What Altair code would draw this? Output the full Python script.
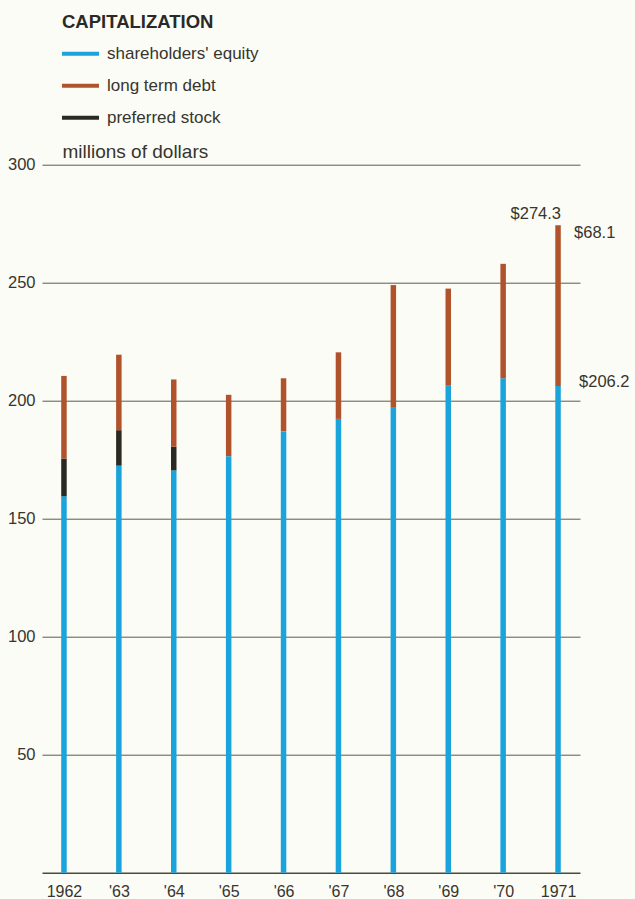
import altair as alt
import pandas as pd

years = ["1962", "'63", "'64", "'65", "'66", "'67", "'68", "'69", "'70", "1971"]
equity = [159.5, 172.5, 170.5, 176.5, 187.0, 192.3, 197.0, 206.5, 209.5, 206.2]
preferred = [16.0, 15.0, 10.0, 0.0, 0.0, 0.0, 0.0, 0.0, 0.0, 0.0]
debt = [35.0, 32.0, 28.5, 26.0, 22.5, 28.2, 52.0, 41.0, 48.5, 68.1]
series = ["shareholders' equity", "long term debt", "preferred stock"]
colors = ["#1ba3dc", "#b0532c", "#2b2a22"]
y_ticks = [50, 100, 150, 200, 250, 300]

stack_pos = {"shareholders' equity": 0, "preferred stock": 1, "long term debt": 2}
rows = []
for i, yr in enumerate(years):
    for s, vals in ((series[0], equity), (series[2], preferred), (series[1], debt)):
        rows.append({"year": yr, "series": s, "value": vals[i], "order": stack_pos[s]})
df = pd.DataFrame(rows)

last = years[-1]
total_last = round(equity[-1] + preferred[-1] + debt[-1], 1)

FONT = "Liberation Sans"
TXT = "#36352e"

xenc = alt.X(
    "year:N", sort=years,
    scale=alt.Scale(type="point", padding=0.4),
    axis=alt.Axis(title=None, labelAngle=0, labelFontSize=16, labelPadding=11,
                  ticks=False, domainColor="#4a4a3e", domainWidth=1.5,
                  labelColor=TXT, labelFont=FONT, grid=False),
)
yscale = alt.Scale(domain=[0, 300], nice=False)

bars = alt.Chart(df).mark_bar(size=5.5).encode(
    x=xenc,
    y=alt.Y("value:Q", stack="zero", scale=yscale,
            axis=alt.Axis(values=y_ticks, title="millions of dollars", titleAngle=0,
                          titleAlign="left", titleBaseline="alphabetic", titleX=20,
                          titleY=-7.7, titleFontSize=19, titleFontWeight="normal",
                          titleColor=TXT, titleFont=FONT, labelFont=FONT,
                          labelFontSize=16.5, labelColor=TXT, labelPadding=7,
                          ticks=False, domain=False, grid=True, gridColor="#5c5b48",
                          gridWidth=1)),
    color=alt.Color("series:N", scale=alt.Scale(domain=series, range=colors),
                    legend=alt.Legend(orient="none", legendX=20, legendY=-152,
                                      title="CAPITALIZATION", titleFontSize=18.5,
                                      titleFont=FONT, titleFontWeight="bold",
                                      titleColor="#2a2a25", titlePadding=13,
                                      labelFontSize=17, labelFont=FONT,
                                      labelColor=TXT, symbolType="M-2,-0.22H2V0.22H-2Z",
                                      symbolSize=342, symbolStrokeWidth=0,
                                      symbolOpacity=1, rowPadding=14, padding=0,
                                      symbolOffset=9, labelOffset=17)),
    order=alt.Order("order:Q"),
)

ann_total = alt.Chart(pd.DataFrame({"year": [last], "value": [total_last],
                                    "label": [f"${total_last:.1f}"]})).mark_text(
    align="right", baseline="alphabetic", dx=3, dy=-6, fontSize=16.5, font=FONT, color=TXT
).encode(x=alt.X("year:N", sort=years), y=alt.Y("value:Q", scale=yscale), text="label:N")

ann_debt = alt.Chart(pd.DataFrame({"year": [last], "value": [total_last],
                                   "label": [f"${debt[-1]:.1f}"]})).mark_text(
    align="left", baseline="alphabetic", dx=16, dy=13, fontSize=16.5, font=FONT, color=TXT
).encode(x=alt.X("year:N", sort=years), y=alt.Y("value:Q", scale=yscale), text="label:N")

ann_eq = alt.Chart(pd.DataFrame({"year": [last], "value": [equity[-1]],
                                 "label": [f"${equity[-1]:.1f}"]})).mark_text(
    align="left", baseline="alphabetic", dx=21, dy=1, fontSize=16.5, font=FONT, color=TXT
).encode(x=alt.X("year:N", sort=years), y=alt.Y("value:Q", scale=yscale), text="label:N")

chart = alt.layer(bars, ann_total, ann_debt, ann_eq).properties(
    width=538, height=708,
    autosize=alt.AutoSizeParams(type="none"),
    padding={"left": 42, "top": 164.7, "right": 55, "bottom": 26.3},
    background="#fcfcf6",
).configure_view(stroke=None)

chart.save("out.html", embed_options={"renderer": "svg", "actions": False})
